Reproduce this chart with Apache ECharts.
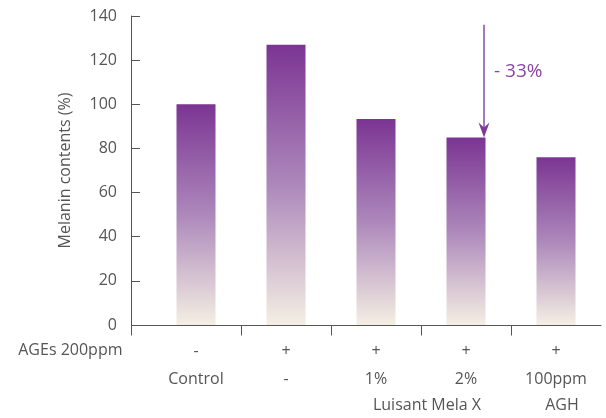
<!DOCTYPE html>
<html>
<head>
<meta charset="utf-8">
<script src="https://cdn.jsdelivr.net/npm/echarts@6/dist/echarts.min.js"></script>
<style>
  html, body { margin: 0; padding: 0; background: #fff; }
  #chart { width: 606px; height: 418px; }
</style>
</head>
<body>
<div id="chart"></div>
<script>
// Melanin content per treatment group
const treatments = ['Control', '-', '1%', '2%', '100ppm'];
const agesRow = ['-', '+', '+', '+', '+'];
const melanin = [100, 127, 93.3, 85, 76];
const yTicks = [0, 20, 40, 60, 80, 100, 120, 140];
const rowHeader = 'AGEs 200ppm';
const groupLabels = [
  { text: 'Luisant Mela X', from: 2, to: 3 },
  { text: 'AGH', from: 4, to: 4 }
];
const dropLabel = '- 33%';
const dropFrom = 136;   // arrow start (axis units)
const dropIndex = 3;    // arrow ends on this bar

const FONT = '"Open Sans", sans-serif';
const TEXT = '#555';
const AXIS = '#555';

const chart = echarts.init(document.getElementById('chart'), null, { renderer: 'canvas' });

const barFill = new echarts.graphic.LinearGradient(0, 0, 0, 1, [
  { offset: 0, color: '#7b3593' },
  { offset: 0.5, color: '#ad88bb' },
  { offset: 1, color: '#f4efe3' }
]);

chart.setOption({
  animation: false,
  grid: { left: 151, right: 5, top: 16, bottom: 93 },
  xAxis: {
    type: 'category',
    data: treatments,
    axisLine: { lineStyle: { color: AXIS, width: 1 } },
    axisTick: { show: false },
    axisLabel: {
      margin: 12,
      lineHeight: 28,
      fontFamily: FONT, fontSize: 16, color: TEXT,
      formatter: (v, i) => agesRow[i] + '\n' + v
    }
  },
  yAxis: {
    type: 'value',
    min: 0, max: 140, interval: 20,
    offset: 20,
    name: 'Melanin contents (%)',
    nameLocation: 'middle',
    nameGap: 58,
    nameTextStyle: { fontFamily: FONT, fontSize: 16, color: TEXT },
    axisLine: { show: true, lineStyle: { color: AXIS, width: 1 } },
    axisTick: { show: true, inside: true, length: 9, lineStyle: { color: AXIS } },
    splitLine: { show: false },
    axisLabel: {
      margin: 14,
      fontFamily: FONT, fontSize: 16, color: TEXT,
      formatter: (v) => (yTicks.indexOf(v) >= 0 ? String(v) : '')
    }
  },
  series: [{
    type: 'bar',
    data: melanin,
    barWidth: 39,
    itemStyle: { color: barFill }
  }]
});

// Annotations positioned from the chart's own coordinate system
const px = (idx, val) => chart.convertToPixel({ xAxisIndex: 0, yAxisIndex: 0 }, [idx, val]);
const origin = px(0, 0);
const axisY = Math.round(origin[1]) + 0.5;
const band = px(1, 0)[0] - origin[0];
const catStart = origin[0] - band / 2;
const yLineX = Math.round(catStart - 20) + 0.5;

const graphics = [];
// axis baseline continuation to the y-axis
graphics.push({
  type: 'line', silent: true,
  shape: { x1: yLineX, y1: axisY, x2: catStart + 1, y2: axisY },
  style: { stroke: AXIS, lineWidth: 1 }
});
// downward ticks: at the y-axis and between categories
const tickXs = [yLineX];
for (let k = 1; k < treatments.length; k++) tickXs.push(Math.round(catStart + k * band) + 0.5);
tickXs.forEach(x => graphics.push({
  type: 'line', silent: true,
  shape: { x1: x, y1: axisY, x2: x, y2: axisY + 10 },
  style: { stroke: AXIS, lineWidth: 1 }
}));
// row header
graphics.push({
  type: 'text', silent: true,
  x: yLineX - 9, y: axisY + 25,
  style: { text: rowHeader, font: '16px ' + FONT, fill: TEXT, align: 'right', verticalAlign: 'middle' }
});
// group labels on the third row
groupLabels.forEach(g => {
  const a = px(g.from, 0)[0], b = px(g.to, 0)[0];
  graphics.push({
    type: 'text', silent: true,
    x: (a + b) / 2 + 6, y: axisY + 80,
    style: { text: g.text, font: '16px ' + FONT, fill: TEXT, align: 'center', verticalAlign: 'middle' }
  });
});
// reduction arrow
const arrowStart = px(dropIndex, dropFrom);
const arrowTip = px(dropIndex, melanin[dropIndex]);
const ax = Math.round(arrowStart[0] + 18);
graphics.push({
  type: 'line', silent: true,
  shape: { x1: ax, y1: arrowStart[1], x2: ax, y2: arrowTip[1] - 8 },
  style: { stroke: '#a678bd', lineWidth: 2 }
});
graphics.push({
  type: 'polygon', silent: true,
  shape: { points: [[ax - 5.5, arrowTip[1] - 15], [ax, arrowTip[1] - 10], [ax + 5.5, arrowTip[1] - 15], [ax, arrowTip[1]]] },
  style: { fill: '#7d3a96' }
});
graphics.push({
  type: 'text', silent: true,
  x: ax + 10, y: arrowStart[1] + 47,
  style: { text: dropLabel, font: '19px ' + FONT, fill: '#8a45a3', align: 'left', verticalAlign: 'middle' }
});

chart.setOption({ graphic: graphics });
</script>
</body>
</html>
